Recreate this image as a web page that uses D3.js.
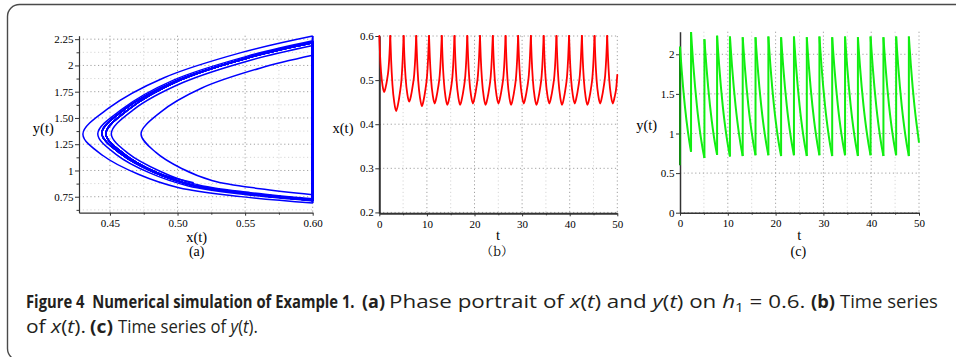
<!DOCTYPE html>
<html><head><meta charset="utf-8">
<script src="https://cdn.jsdelivr.net/npm/d3@7/dist/d3.min.js"></script>
<style>body{margin:0;background:#fff;} svg{display:block;} text{white-space:pre;}</style>
</head><body>
<svg id="fig" width="956" height="357"></svg>
<script>
// ---------------- DATA ----------------
// Sample times of each impulse cycle (jump at x = 0.6 starts a new cycle)
const tCycles = [
  [0, 0.139, 0.370, 0.693, 1.016, 1.340, 1.663, 1.940, 2.148, 2.31],
  [2.31, 2.478, 2.758, 3.150, 3.542, 3.934, 4.326, 4.662, 4.914, 5.11],
  [5.11, 5.269, 5.534, 5.905, 6.276, 6.647, 7.018, 7.336, 7.575, 7.76],
  [7.76, 7.921, 8.190, 8.567, 8.944, 9.320, 9.697, 10.020, 10.262, 10.45],
  [10.45, 10.610, 10.877, 11.251, 11.625, 11.999, 12.372, 12.693, 12.933, 13.12],
  [13.12, 13.281, 13.549, 13.924, 14.299, 14.674, 15.050, 15.371, 15.612, 15.80],
  [15.80, 15.961, 16.230, 16.607, 16.984, 17.360, 17.737, 18.060, 18.302, 18.49],
  [18.49, 18.650, 18.916, 19.288, 19.660, 20.033, 20.405, 20.724, 20.964, 21.15],
  [21.15, 21.311, 21.580, 21.957, 22.334, 22.710, 23.087, 23.410, 23.652, 23.84],
  [23.84, 24.001, 24.270, 24.647, 25.024, 25.400, 25.777, 26.100, 26.342, 26.53],
  [26.53, 26.688, 26.952, 27.322, 27.692, 28.061, 28.431, 28.748, 28.985, 29.17],
  [29.17, 29.330, 29.597, 29.971, 30.345, 30.719, 31.092, 31.413, 31.653, 31.84],
  [31.84, 32.001, 32.270, 32.647, 33.024, 33.400, 33.777, 34.100, 34.342, 34.53],
  [34.53, 34.691, 34.960, 35.337, 35.714, 36.090, 36.467, 36.790, 37.032, 37.22],
  [37.22, 37.379, 37.644, 38.015, 38.386, 38.757, 39.128, 39.446, 39.685, 39.87],
  [39.87, 40.031, 40.300, 40.677, 41.054, 41.430, 41.807, 42.130, 42.372, 42.56],
  [42.56, 42.720, 42.986, 43.358, 43.730, 44.103, 44.475, 44.794, 45.034, 45.22],
  [45.22, 45.380, 45.646, 46.018, 46.390, 46.763, 47.135, 47.454, 47.694, 47.88],
  [47.88, 48.040, 48.306, 48.678, 49.050, 49.423, 49.795, 50.00]
];
// x(t) at those times
const xCycles = [
  [0.600, 0.561, 0.518, 0.487, 0.473, 0.484, 0.503, 0.526, 0.561, 0.600],
  [0.600, 0.547, 0.490, 0.449, 0.430, 0.445, 0.471, 0.501, 0.547, 0.600],
  [0.600, 0.554, 0.504, 0.467, 0.451, 0.464, 0.487, 0.513, 0.554, 0.600],
  [0.600, 0.551, 0.497, 0.459, 0.441, 0.455, 0.479, 0.508, 0.551, 0.600],
  [0.600, 0.553, 0.501, 0.464, 0.447, 0.461, 0.484, 0.511, 0.553, 0.600],
  [0.600, 0.552, 0.499, 0.461, 0.444, 0.458, 0.481, 0.509, 0.552, 0.600],
  [0.600, 0.552, 0.499, 0.461, 0.444, 0.458, 0.481, 0.509, 0.552, 0.600],
  [0.600, 0.553, 0.501, 0.464, 0.447, 0.461, 0.484, 0.511, 0.553, 0.600],
  [0.600, 0.552, 0.499, 0.461, 0.444, 0.458, 0.481, 0.509, 0.552, 0.600],
  [0.600, 0.553, 0.501, 0.464, 0.447, 0.461, 0.484, 0.511, 0.553, 0.600],
  [0.600, 0.552, 0.499, 0.461, 0.444, 0.458, 0.481, 0.509, 0.552, 0.600],
  [0.600, 0.553, 0.501, 0.464, 0.447, 0.461, 0.484, 0.511, 0.553, 0.600],
  [0.600, 0.552, 0.499, 0.461, 0.444, 0.458, 0.481, 0.509, 0.552, 0.600],
  [0.600, 0.553, 0.501, 0.464, 0.447, 0.461, 0.484, 0.511, 0.553, 0.600],
  [0.600, 0.552, 0.499, 0.461, 0.444, 0.458, 0.481, 0.509, 0.552, 0.600],
  [0.600, 0.553, 0.501, 0.464, 0.447, 0.461, 0.484, 0.511, 0.553, 0.600],
  [0.600, 0.552, 0.499, 0.461, 0.444, 0.458, 0.481, 0.509, 0.552, 0.600],
  [0.600, 0.553, 0.501, 0.464, 0.447, 0.461, 0.484, 0.511, 0.553, 0.600],
  [0.600, 0.553, 0.501, 0.464, 0.447, 0.461, 0.484, 0.512]
];
// y(t) at those times
const yCycles = [
  [2.096, 1.974, 1.785, 1.551, 1.348, 1.172, 1.019, 0.903, 0.826, 0.770],
  [2.280, 2.122, 1.883, 1.593, 1.347, 1.140, 0.964, 0.836, 0.751, 0.690],
  [2.190, 2.050, 1.837, 1.575, 1.351, 1.158, 0.993, 0.870, 0.789, 0.730],
  [2.235, 2.086, 1.860, 1.584, 1.349, 1.149, 0.979, 0.853, 0.769, 0.710],
  [2.225, 2.079, 1.855, 1.583, 1.350, 1.152, 0.983, 0.858, 0.774, 0.715],
  [2.215, 2.071, 1.853, 1.584, 1.355, 1.159, 0.991, 0.867, 0.784, 0.725],
  [2.215, 2.071, 1.853, 1.584, 1.355, 1.159, 0.991, 0.867, 0.784, 0.725],
  [2.225, 2.079, 1.855, 1.583, 1.350, 1.152, 0.983, 0.858, 0.774, 0.715],
  [2.215, 2.071, 1.853, 1.584, 1.355, 1.159, 0.991, 0.867, 0.784, 0.725],
  [2.225, 2.079, 1.855, 1.583, 1.350, 1.152, 0.983, 0.858, 0.774, 0.715],
  [2.215, 2.071, 1.853, 1.584, 1.355, 1.159, 0.991, 0.867, 0.784, 0.725],
  [2.225, 2.079, 1.855, 1.583, 1.350, 1.152, 0.983, 0.858, 0.774, 0.715],
  [2.215, 2.071, 1.853, 1.584, 1.355, 1.159, 0.991, 0.867, 0.784, 0.725],
  [2.225, 2.079, 1.855, 1.583, 1.350, 1.152, 0.983, 0.858, 0.774, 0.715],
  [2.215, 2.071, 1.853, 1.584, 1.355, 1.159, 0.991, 0.867, 0.784, 0.725],
  [2.225, 2.079, 1.855, 1.583, 1.350, 1.152, 0.983, 0.858, 0.774, 0.715],
  [2.215, 2.071, 1.853, 1.584, 1.355, 1.159, 0.991, 0.867, 0.784, 0.725],
  [2.225, 2.079, 1.855, 1.583, 1.350, 1.152, 0.983, 0.858, 0.774, 0.715],
  [2.225, 2.079, 1.855, 1.583, 1.350, 1.152, 0.983, 0.884]
];
const initialY = 0.6;        // y(0) before the first impulse
const threshold = 0.6;       // h1

// Tick values / labels
const aXTicks = [0.45, 0.50, 0.55, 0.60];
const aXLabels = ["0.45", "0.50", "0.55", "0.60"];
const aXMinor = [0.475, 0.525, 0.575];
const aYTicks = [0.75, 1, 1.25, 1.5, 1.75, 2, 2.25];
const aYLabels = ["0.75", "1", "1.25", "1.50", "1.75", "2", "2.25"];
const aYMinor = [0.625, 0.875, 1.125, 1.375, 1.625, 1.875, 2.125];
const tTicks = [0, 10, 20, 30, 40, 50];
const tLabels = ["0", "10", "20", "30", "40", "50"];
const tMinor = [5, 15, 25, 35, 45];
const bYTicks = [0.2, 0.3, 0.4, 0.5, 0.6];
const bYLabels = ["0.2", "0.3", "0.4", "0.5", "0.6"];
const cYTicks = [0, 0.5, 1, 1.5, 2];
const cYLabels = ["0", "0.5", "1", "1.5", "2"];

// ---------------- DRAWING ----------------
const svg = d3.select("#fig");
const SERIF = "'Liberation Serif', 'Times New Roman', serif";

// frame
svg.append("rect").attr("x", 7.5).attr("y", 4.5).attr("width", 1000).attr("height", 356)
  .attr("rx", 12).attr("fill", "none").attr("stroke", "#4a4a4a").attr("stroke-width", 1.4);

function makePanel(cfg) {
  const g = svg.append("g");
  const x = d3.scaleLinear().domain(cfg.xDomain).range([cfg.left, cfg.right]);
  const y = d3.scaleLinear().domain(cfg.yDomain).range([cfg.bottom, cfg.top]);
  const grid = g.append("g");
  const vl = (vals, col) => grid.append("g").selectAll("line").data(vals).join("line")
    .attr("x1", d => x(d)).attr("x2", d => x(d)).attr("y1", cfg.top).attr("y2", cfg.bottom)
    .attr("stroke", col).attr("stroke-width", 1).attr("stroke-dasharray", "1.2,2.6");
  const hl = (vals, col) => grid.append("g").selectAll("line").data(vals).join("line")
    .attr("y1", d => y(d)).attr("y2", d => y(d)).attr("x1", cfg.left).attr("x2", cfg.right)
    .attr("stroke", col).attr("stroke-width", 1).attr("stroke-dasharray", "1.2,2.6");
  if (cfg.xMinorGrid) vl(cfg.xMinorGrid, "#d6d6d6");
  if (cfg.yMinorGrid) hl(cfg.yMinorGrid, "#d6d6d6");
  vl(cfg.xTicks.filter(d => d !== cfg.xDomain[0]), "#a0a0a0");
  hl(cfg.yTicks, "#a0a0a0");

  // axes
  const ax = g.append("g");
  const yAxis = d3.axisLeft(y).tickValues(cfg.yTicks).tickFormat((d, i) => cfg.yLabels[i])
    .tickSizeInner(4).tickSizeOuter(0).tickPadding(1.5);
  const ya = ax.append("g").attr("transform", `translate(${cfg.left},0)`).call(yAxis);
  ya.select(".domain").attr("stroke", "#333").attr("stroke-width", cfg.axisW);
  ya.selectAll(".tick line").attr("stroke", "#333").attr("x2", -4).attr("x1", 1);
  ya.selectAll("text").attr("font-family", SERIF).attr("font-size", cfg.tickFont).attr("fill", "#000");
  if (cfg.yMinorTicks) {
    ax.append("g").attr("transform", `translate(${cfg.left},0)`)
      .call(d3.axisLeft(y).tickValues(cfg.yMinorTicks).tickFormat("").tickSizeInner(2.5).tickSizeOuter(0))
      .call(s => s.select(".domain").remove())
      .selectAll(".tick line").attr("stroke", "#333");
  }
  const xAxis = d3.axisBottom(x).tickValues(cfg.xTicks).tickFormat((d, i) => cfg.xLabels[i])
    .tickSizeInner(3).tickSizeOuter(0).tickPadding(3.5);
  const xa = ax.append("g").attr("transform", `translate(0,${cfg.bottom})`).call(xAxis);
  xa.select(".domain").attr("stroke", "#333").attr("stroke-width", cfg.axisW);
  xa.selectAll(".tick line").attr("stroke", "#333");
  xa.selectAll("text").attr("font-family", SERIF).attr("font-size", cfg.tickFont).attr("fill", "#000");
  if (cfg.xMinorTicks) {
    ax.append("g").attr("transform", `translate(0,${cfg.bottom})`)
      .call(d3.axisBottom(x).tickValues(cfg.xMinorTicks).tickFormat("").tickSizeInner(2).tickSizeOuter(0))
      .call(s => s.select(".domain").remove())
      .selectAll(".tick line").attr("stroke", "#333");
  }

  // labels
  g.append("text").attr("x", cfg.xlab[0]).attr("y", cfg.xlab[1]).attr("text-anchor", "middle")
    .attr("font-family", SERIF).attr("font-size", 14.5).text(cfg.xLabel);
  g.append("text").attr("x", cfg.ylab[0]).attr("y", cfg.ylab[1]).attr("text-anchor", "middle")
    .attr("font-family", SERIF).attr("font-size", 14.5).text(cfg.yLabel);
  g.append("text").attr("x", cfg.sub[0]).attr("y", cfg.sub[1]).attr("text-anchor", "middle")
    .attr("font-family", cfg.subFont || SERIF).attr("font-size", cfg.subSize || 14).text(cfg.subLabel);

  const id = "clip" + cfg.name;
  svg.append("clipPath").attr("id", id).append("rect")
    .attr("x", cfg.left - 2).attr("y", cfg.top - 1).attr("width", cfg.right - cfg.left + 4)
    .attr("height", cfg.bottom - cfg.top + 1);
  const plot = svg.append("g").attr("clip-path", `url(#${id})`);
  return { x, y, plot };
}

// ---- Panel (a): phase portrait ----
const A = makePanel({
  name: "a", left: 79, right: 312.7, top: 35.7, bottom: 212.7,
  xDomain: [0.4271, 0.6], yDomain: [0.598, 2.283],
  xTicks: aXTicks, xLabels: aXLabels, yTicks: aYTicks, yLabels: aYLabels,
  xMinorGrid: aXMinor, yMinorGrid: aYMinor, yMinorTicks: aYMinor, xMinorTicks: aXMinor,
  tickFont: 11, axisW: 1.2,
  xLabel: "x(t)", xlab: [196.7, 241.5], yLabel: "y(t)", ylab: [43.3, 133],
  subLabel: "(a)", sub: [196.7, 255.5]
});
const phaseLine = d3.line().x(d => A.x(d[0])).y(d => A.y(d[1])).curve(d3.curveCatmullRom.alpha(0.5));
xCycles.forEach((xs, i) => {
  A.plot.append("path").datum(xs.map((v, j) => [v, yCycles[i][j]]))
    .attr("d", phaseLine).attr("fill", "none").attr("stroke", "#0000ff").attr("stroke-width", 1.5);
});
// impulsive jumps along x = h1
yCycles.slice(1).forEach((ys, i) => {
  const prev = yCycles[i];
  A.plot.append("line").attr("x1", A.x(threshold)).attr("x2", A.x(threshold))
    .attr("y1", A.y(prev[prev.length - 1])).attr("y2", A.y(ys[0]))
    .attr("stroke", "#0000ff").attr("stroke-width", 2);
});

// ---- Panel (b): x(t) ----
const B = makePanel({
  name: "b", left: 379.3, right: 617.3, top: 36, bottom: 213.3,
  xDomain: [0, 50], yDomain: [0.198, 0.6],
  xTicks: tTicks, xLabels: tLabels, yTicks: bYTicks, yLabels: bYLabels,
  xMinorGrid: tMinor, xMinorTicks: tMinor,
  tickFont: 11, axisW: 2,
  xLabel: "t", xlab: [498, 240], yLabel: "x(t)", ylab: [343, 132.5],
  subLabel: "（b）", sub: [497, 256], subFont: "'Noto Serif CJK SC', 'Noto Sans CJK SC', " + SERIF, subSize: 12.5
});
const tsLineB = d3.line().x(d => B.x(d[0])).y(d => B.y(d[1])).curve(d3.curveMonotoneX);
tCycles.forEach((ts, i) => {
  B.plot.append("path").datum(ts.map((t, j) => [t, xCycles[i][j]]))
    .attr("d", tsLineB).attr("fill", "none").attr("stroke", "#ff0000").attr("stroke-width", 1.8)
    .attr("stroke-linecap", "round");
});

// ---- Panel (c): y(t) ----
const C = makePanel({
  name: "c", left: 680, right: 919, top: 31.7, bottom: 212.7,
  xDomain: [0, 50], yDomain: [0, 2.285],
  xTicks: tTicks, xLabels: tLabels, yTicks: cYTicks, yLabels: cYLabels,
  xMinorGrid: tMinor, xMinorTicks: tMinor,
  tickFont: 11, axisW: 1.5,
  xLabel: "t", xlab: [799.3, 240], yLabel: "y(t)", ylab: [646.7, 129.5],
  subLabel: "(c)", sub: [798.3, 255.5]
});
const tsLineC = d3.line().x(d => C.x(d[0])).y(d => C.y(d[1])).curve(d3.curveMonotoneX);
C.plot.append("line").attr("x1", C.x(0)).attr("x2", C.x(0))
  .attr("y1", C.y(initialY)).attr("y2", C.y(yCycles[0][0]))
  .attr("stroke", "#118a11").attr("stroke-width", 2);
tCycles.forEach((ts, i) => {
  C.plot.append("path").datum(ts.map((t, j) => [t, yCycles[i][j]]))
    .attr("d", tsLineC).attr("fill", "none").attr("stroke", "#11ee11").attr("stroke-width", 2);
});
yCycles.slice(1).forEach((ys, i) => {
  const prev = yCycles[i];
  const tj = tCycles[i + 1][0];
  C.plot.append("line").attr("x1", C.x(tj)).attr("x2", C.x(tj))
    .attr("y1", C.y(prev[prev.length - 1])).attr("y2", C.y(ys[0]))
    .attr("stroke", "#11ee11").attr("stroke-width", 2);
});

// ---------------- CAPTION ----------------
const CAPF = "'Open Sans', 'Noto Sans', sans-serif";
function capGroup(x0, x1, yPos, size, parts) {
  const t = svg.append("text").attr("x", 0).attr("y", yPos)
    .attr("font-family", CAPF).attr("font-size", size).attr("fill", "#231f20");
  parts.forEach(p => {
    const s = t.append("tspan").text(p.t);
    if (p.b) s.attr("font-weight", 700);
    if (p.i) s.attr("font-style", "italic");
    if (p.sub) s.attr("font-size", size * 0.68).attr("dy", 4);
    if (p.up) s.attr("dy", -4);
  });
  const w = t.node().getComputedTextLength();
  t.attr("transform", `translate(${x0},0) scale(${(x1 - x0) / w},1)`);
  return t;
}
capGroup(26, 355, 308, 17.5, [{ t: "Figure 4", b: 1 }, { t: "  Numerical simulation of Example 1.", b: 1 }]);
capGroup(362, 385, 308, 17.5, [{ t: "(a)", b: 1 }]);
capGroup(389, 806, 308, 18.5, [
  { t: "Phase portrait of " }, { t: "x", i: 1 }, { t: "(" }, { t: "t", i: 1 }, { t: ") and " },
  { t: "y", i: 1 }, { t: "(" }, { t: "t", i: 1 }, { t: ") on " }, { t: "h", i: 1 }, { t: "1", sub: 1 },
  { t: " = 0.6.", up: 1 }]);
capGroup(811, 835, 308, 17.5, [{ t: "(b)", b: 1 }]);
capGroup(840, 938, 308, 18.5, [{ t: "Time series" }]);
capGroup(26, 86, 333, 18.5, [{ t: "of " }, { t: "x", i: 1 }, { t: "(" }, { t: "t", i: 1 }, { t: ")." }]);
capGroup(90, 113, 333, 17.5, [{ t: "(c)", b: 1 }]);
capGroup(118, 258, 333, 18.5, [{ t: "Time series of " }, { t: "y", i: 1 }, { t: "(" }, { t: "t", i: 1 }, { t: ")." }]);
</script>
</body></html>
